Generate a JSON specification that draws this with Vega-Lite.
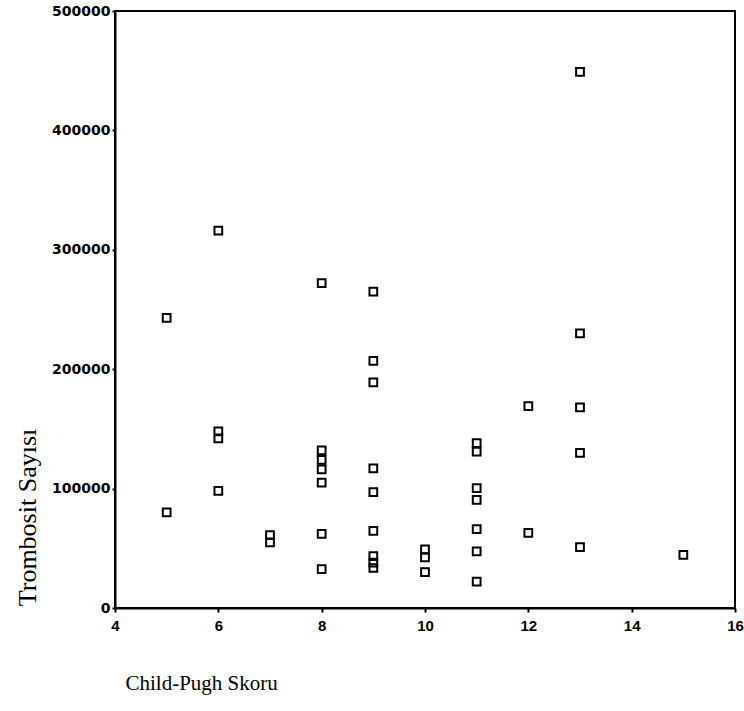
{
  "$schema": "https://vega.github.io/schema/vega-lite/v6.json",
  "width": 620,
  "height": 597,
  "autosize": {"type": "none"},
  "padding": {"left": 115, "top": 11, "right": 9, "bottom": 103},
  "background": "white",
  "config": {
    "view": {"stroke": "black", "strokeWidth": 2},
    "axis": {"grid": false, "domainColor": "black", "domainWidth": 2, "tickColor": "black", "tickWidth": 2, "labelColor": "black", "titleColor": "black"}
  },
  "data": {
    "values": [
      {"skor": 5, "trombosit": 243000},
      {"skor": 5, "trombosit": 80000},
      {"skor": 6, "trombosit": 316000},
      {"skor": 6, "trombosit": 148000},
      {"skor": 6, "trombosit": 142000},
      {"skor": 6, "trombosit": 98000},
      {"skor": 7, "trombosit": 61000},
      {"skor": 7, "trombosit": 55000},
      {"skor": 8, "trombosit": 272000},
      {"skor": 8, "trombosit": 132000},
      {"skor": 8, "trombosit": 124000},
      {"skor": 8, "trombosit": 116000},
      {"skor": 8, "trombosit": 105000},
      {"skor": 8, "trombosit": 62000},
      {"skor": 8, "trombosit": 32500},
      {"skor": 9, "trombosit": 265000},
      {"skor": 9, "trombosit": 207000},
      {"skor": 9, "trombosit": 189000},
      {"skor": 9, "trombosit": 117000},
      {"skor": 9, "trombosit": 97000},
      {"skor": 9, "trombosit": 64500},
      {"skor": 9, "trombosit": 43500},
      {"skor": 9, "trombosit": 38000},
      {"skor": 9, "trombosit": 33500},
      {"skor": 10, "trombosit": 49000},
      {"skor": 10, "trombosit": 42500},
      {"skor": 10, "trombosit": 30000},
      {"skor": 11, "trombosit": 138000},
      {"skor": 11, "trombosit": 131000},
      {"skor": 11, "trombosit": 100500},
      {"skor": 11, "trombosit": 90500},
      {"skor": 11, "trombosit": 66000},
      {"skor": 11, "trombosit": 47500},
      {"skor": 11, "trombosit": 22000},
      {"skor": 12, "trombosit": 169000},
      {"skor": 12, "trombosit": 63000},
      {"skor": 13, "trombosit": 449000},
      {"skor": 13, "trombosit": 230000},
      {"skor": 13, "trombosit": 168000},
      {"skor": 13, "trombosit": 130000},
      {"skor": 13, "trombosit": 51000},
      {"skor": 15, "trombosit": 44500}
    ]
  },
  "mark": {"type": "point", "shape": "square", "filled": false, "stroke": "black", "strokeWidth": 2, "size": 60, "opacity": 1},
  "encoding": {
    "x": {
      "field": "skor", "type": "quantitative",
      "scale": {"domain": [4, 16], "nice": false, "zero": false},
      "axis": {
        "title": "Child-Pugh Skoru",
        "values": [4, 6, 8, 10, 12, 14, 16],
        "format": "d",
        "tickSize": 4,
        "labelPadding": 6,
        "labelFont": "Liberation Sans Narrow, Liberation Sans",
        "labelFontSize": 15,
        "labelFontWeight": "bold",
        "labelFlush": false,
        "titleFont": "Liberation Serif",
        "titleFontSize": 21,
        "titleFontWeight": "normal",
        "titleAlign": "left",
        "titleBaseline": "middle",
        "titleAnchor": null,
        "titleX": 10,
        "titleY": 75
      }
    },
    "y": {
      "field": "trombosit", "type": "quantitative",
      "scale": {"domain": [0, 500000], "nice": false},
      "axis": {
        "title": "Trombosit Sayısı",
        "values": [0, 100000, 200000, 300000, 400000, 500000],
        "format": "d",
        "tickSize": 3,
        "labelPadding": 2,
        "labelFont": "DejaVu Sans",
        "labelFontSize": 14,
        "labelFontWeight": "bold",
        "labelFlush": false,
        "titleFont": "Liberation Serif",
        "titleFontSize": 26,
        "titleFontWeight": "normal",
        "titleAngle": -90,
        "titleAlign": "center",
        "titleBaseline": "middle",
        "titleX": -88,
        "titleY": 506
      }
    }
  }
}
